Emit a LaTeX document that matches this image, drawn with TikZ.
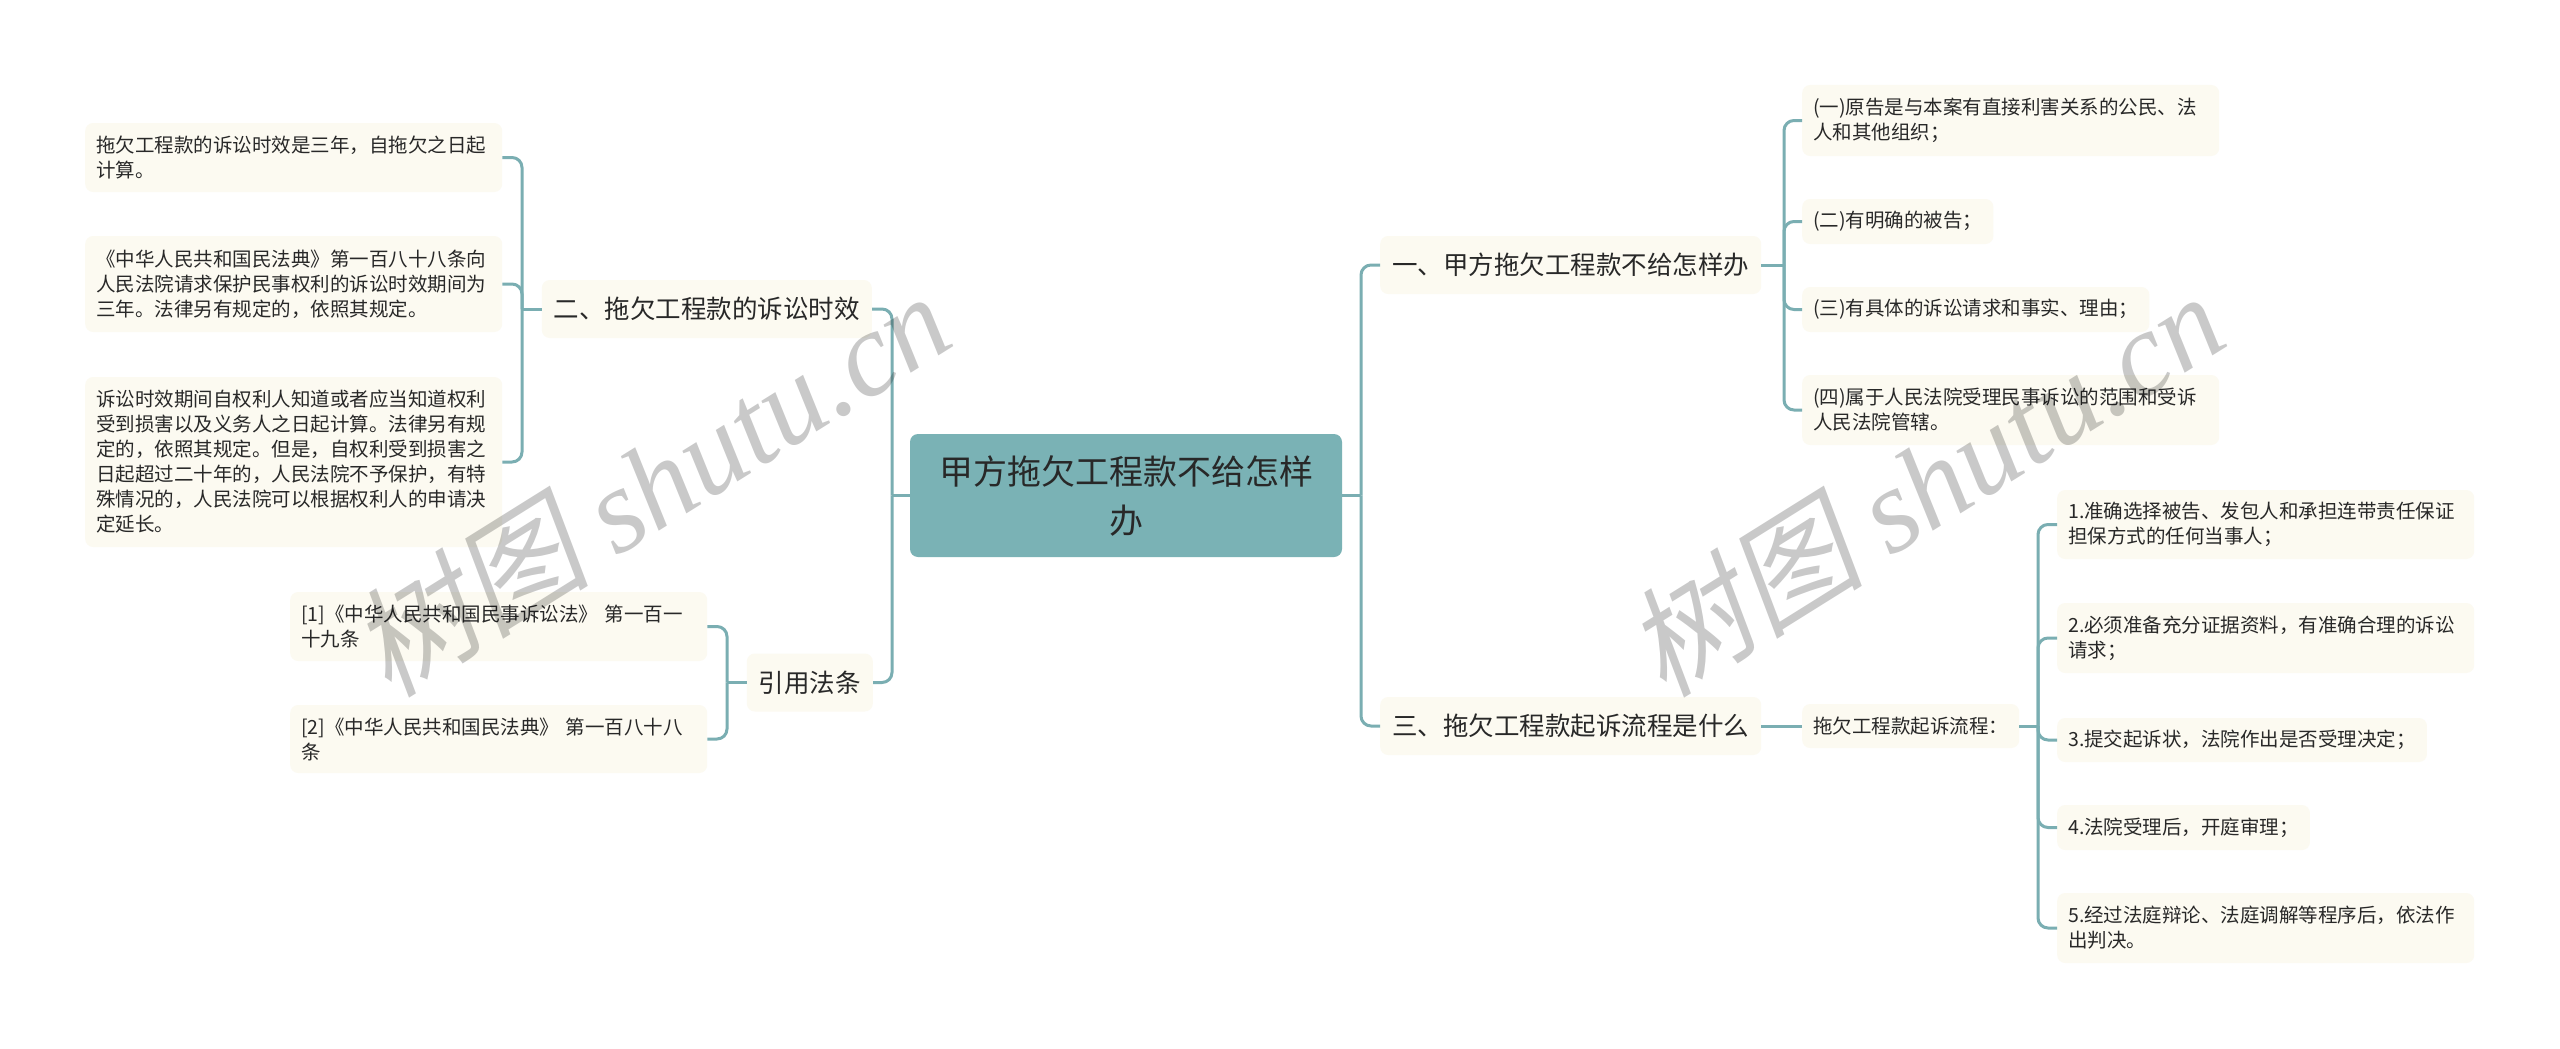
\documentclass[tikz,border=0pt]{standalone}
\usepackage{fontspec}
\setmainfont{Noto Sans CJK SC}
\newfontfamily\wmcjk[FakeSlant=0.2]{Noto Sans CJK SC}
\newfontfamily\wmlat{Liberation Serif}
\definecolor{linec}{RGB}{122,174,178}
\definecolor{rootfill}{RGB}{122,178,181}
\definecolor{leaffill}{RGB}{252,250,241}
\definecolor{textc}{RGB}{40,40,40}
\tikzset{
  base/.style={rounded corners=8pt, inner xsep=11pt, inner ysep=0pt, text=textc, align=left},
  leaf/.style={base, fill=leaffill, font=\fontsize{19.5}{25}\selectfont},
  leafw/.style={leaf, text width=395pt},
  lvlone/.style={base, fill=leaffill, font=\fontsize{25.5}{30}\selectfont, minimum height=58pt, inner xsep=12pt},
  rootbox/.style={rounded corners=8pt, fill=rootfill, minimum width=432pt, minimum height=123pt, align=center, font=\fontsize{34}{49}\selectfont, text=textc},
  conn/.style={draw=linec, line width=3pt, rounded corners=10pt},
  wmark/.style={rotate=32, text=black, opacity=0.21, font=\fontsize{120}{120}\selectfont}
}
\begin{document}
\begin{tikzpicture}[x=1pt,y=-1pt]
\useasboundingbox (0,0) rectangle (2560,1049);
\fill[white] (0,0) rectangle (2560,1049);

% root
\node[rootbox] (C) at (1126,495.5) {甲方拖欠工程款不给怎样\\办};

% level one
\node[lvlone, anchor=east] (B2) at (872,309) {二、拖欠工程款的诉讼时效};
\node[lvlone, anchor=east] (B4) at (873,682.5) {引用法条};
\node[lvlone, anchor=west] (B1) at (1380,265) {一、甲方拖欠工程款不给怎样办};
\node[lvlone, anchor=west] (B3) at (1380,726) {三、拖欠工程款起诉流程是什么};

% left leaves
\node[leafw, anchor=west, minimum height=69pt] (A1) at (85,157.5) {拖欠工程款的诉讼时效是三年，自拖欠之日起\\计算。};
\node[leafw, anchor=west, minimum height=96pt] (A2) at (85,284) {《中华人民共和国民法典》第一百八十八条向\\人民法院请求保护民事权利的诉讼时效期间为\\三年。法律另有规定的，依照其规定。};
\node[leafw, anchor=west, minimum height=170pt] (A3) at (85,462) {诉讼时效期间自权利人知道或者应当知道权利\\受到损害以及义务人之日起计算。法律另有规\\定的，依照其规定。但是，自权利受到损害之\\日起超过二十年的，人民法院不予保护，有特\\殊情况的，人民法院可以根据权利人的申请决\\定延长。};

\node[leafw, anchor=west, minimum height=69pt] (R1) at (290,626.5) {[1]《中华人民共和国民事诉讼法》 第一百一\\十九条};
\node[leafw, anchor=west, minimum height=68pt] (R2) at (290,739) {[2]《中华人民共和国民法典》 第一百八十八\\条};

% right leaves (one)
\node[leafw, anchor=west, minimum height=71pt] (D1) at (1802,120.5) {(一)原告是与本案有直接利害关系的公民、法\\人和其他组织；};
\node[leaf, anchor=west, minimum height=45pt] (D2) at (1802,221.5) {(二)有明确的被告；};
\node[leaf, anchor=west, minimum height=45pt] (D3) at (1802,309.5) {(三)有具体的诉讼请求和事实、理由；};
\node[leafw, anchor=west, minimum height=70pt] (D4) at (1802,410) {(四)属于人民法院受理民事诉讼的范围和受诉\\人民法院管辖。};

% right leaves (three)
\node[leaf, anchor=west, minimum height=44pt] (E0) at (1802,726) {拖欠工程款起诉流程：};
\node[leafw, anchor=west, minimum height=69pt] (E1) at (2057,524.5) {1.准确选择被告、发包人和承担连带责任保证\\担保方式的任何当事人；};
\node[leafw, anchor=west, minimum height=70pt] (E2) at (2057,638) {2.必须准备充分证据资料，有准确合理的诉讼\\请求；};
\node[leaf, anchor=west, minimum height=44pt] (E3) at (2057,740) {3.提交起诉状，法院作出是否受理决定；};
\node[leaf, anchor=west, minimum height=45pt] (E4) at (2057,827.5) {4.法院受理后，开庭审理；};
\node[leafw, anchor=west, minimum height=70pt] (E5) at (2057,928) {5.经过法庭辩论、法庭调解等程序后，依法作\\出判决。};

% junctions
\coordinate (jL) at (892,495.5);
\coordinate (jR) at (1361,495.5);
\coordinate (jB2) at (522,309);
\coordinate (jB4) at (727,682.5);
\coordinate (jB1) at (1784,265);
\coordinate (jE) at (2038,726);

% connectors
\draw[conn] (C.west) -- (jL);
\draw[conn] (jL) |- (B2.east);
\draw[conn] (jL) |- (B4.east);
\draw[conn] (C.east) -- (jR);
\draw[conn] (jR) |- (B1.west);
\draw[conn] (jR) |- (B3.west);

\draw[conn] (B2.west) -- (jB2);
\draw[conn] (jB2) |- (A1.east);
\draw[conn] (jB2) |- (A2.east);
\draw[conn] (jB2) |- (A3.east);

\draw[conn] (B4.west) -- (jB4);
\draw[conn] (jB4) |- (R1.east);
\draw[conn] (jB4) |- (R2.east);

\draw[conn] (B1.east) -- (jB1);
\draw[conn] (jB1) |- (D1.west);
\draw[conn] (jB1) |- (D2.west);
\draw[conn] (jB1) |- (D3.west);
\draw[conn] (jB1) |- (D4.west);

\draw[conn] (B3.east) -- (E0.west);
\draw[conn] (E0.east) -- (jE);
\draw[conn] (jE) |- (E1.west);
\draw[conn] (jE) |- (E2.west);
\draw[conn] (jE) |- (E3.west);
\draw[conn] (jE) |- (E4.west);
\draw[conn] (jE) |- (E5.west);

% watermarks
\node[wmark] (W1) at (650,483) {{\wmcjk 树图} {\wmlat\itshape shutu.cn}};
\node[wmark] (W2) at (1924,483) {{\wmcjk 树图} {\wmlat\itshape shutu.cn}};
\end{tikzpicture}
\end{document}
